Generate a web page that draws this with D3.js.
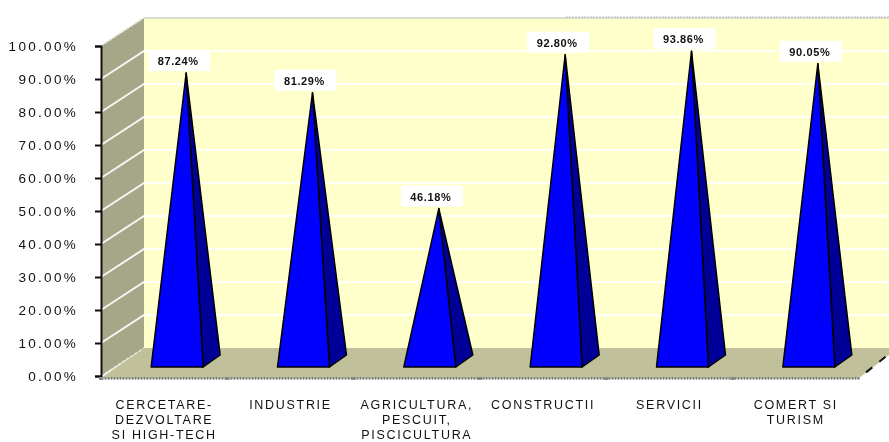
<!DOCTYPE html>
<html>
<head>
<meta charset="utf-8">
<script src="https://cdn.jsdelivr.net/npm/d3@7"></script>
<style>
  html, body { margin: 0; padding: 0; background: #fff; }
  svg { display: block; filter: blur(0.35px); }
  text { font-family: "Liberation Sans", Arial, sans-serif; fill: #111; }
</style>
</head>
<body>
<div class="container"></div>
<script>
(function(){

    var categories = ["CERCETARE-DEZVOLTARE", "INDUSTRIE", "AGRICULTURA", "CONSTRUCTII", "SERVICII", "COMERT SI TURISM"];
    var categoryLines = [
        ["CERCETARE-", "DEZVOLTARE", "SI HIGH-TECH"],
        ["INDUSTRIE"],
        ["AGRICULTURA,", "PESCUIT,", "PISCICULTURA"],
        ["CONSTRUCTII"],
        ["SERVICII"],
        ["COMERT SI", "TURISM"]
    ];
    var values = [87.24, 81.29, 46.18, 92.80, 93.86, 90.05];
    var tickValues = [0, 10, 20, 30, 40, 50, 60, 70, 80, 90, 100];

    var width = 889, height = 442;
    // oblique offset of the back wall from the front plane
    var depthX = 43, depthY = -28;

    var x = d3.scaleBand().domain(categories).range([101, 859]);
    var y = d3.scaleLinear().domain([0, 100]).range([376, 46]);

    var svg = d3.select(".container").append("svg")
        .attr("width", width)
        .attr("height", height)
        .attr("viewBox", "0 0 " + width + " " + height);

    var line = d3.line();
    var y0 = y(0), y100 = y(100), left = x.range()[0], right = x.range()[1];

    // back wall
    svg.append("rect")
        .attr("x", left + depthX)
        .attr("y", y100 + depthY)
        .attr("width", width - left - depthX)
        .attr("height", y0 - y100)
        .attr("fill", "#ffffcc");
    svg.append("line")
        .attr("x1", left + depthX).attr("x2", width)
        .attr("y1", y100 + depthY).attr("y2", y100 + depthY)
        .attr("stroke", "#dcdccf").attr("stroke-width", 2);
    svg.append("line")
        .attr("x1", 566).attr("x2", width)
        .attr("y1", y100 + depthY - 1).attr("y2", y100 + depthY - 1)
        .attr("stroke", "#bbb").attr("stroke-dasharray", "2,1");

    // side wall
    svg.append("path")
        .attr("d", line([[left, y0], [left, y100], [left + depthX, y100 + depthY], [left + depthX, y0 + depthY]]) + "Z")
        .attr("fill", "#a6a688");
    svg.append("path")
        .attr("d", line([[left, y100], [left + depthX, y100 + depthY]]))
        .attr("stroke", "#d8d8d0").attr("stroke-dasharray", "3,2").attr("stroke-width", 1.5);

    // gridlines, side wall and back wall
    svg.append("g").selectAll("path")
        .data(tickValues.slice(1, -1))
        .enter().append("path")
        .attr("fill", "none")
        .attr("stroke", "#fff")
        .attr("stroke-width", 2)
        .attr("opacity", 0.9)
        .attr("d", function(d) {
            return line([[left, y(d)], [left + depthX, y(d) + depthY], [width, y(d) + depthY]]);
        });

    // floor
    svg.append("path")
        .attr("d", line([[left, y0 + 2], [left + depthX, y0 + depthY], [width, y0 + depthY], [width, y0 - 21], [right, y0 + 2]]) + "Z")
        .attr("fill", "#c0c09a");
    svg.append("path")
        .attr("d", line([[right, y0 + 2], [width, y0 - 22]]))
        .attr("stroke", "#111").attr("stroke-dasharray", "8,9").attr("stroke-dashoffset", -9).attr("stroke-width", 2);
    svg.append("path")
        .attr("d", line([[left, y0], [left + depthX, y0 + depthY]]))
        .attr("stroke", "#e4e4d8").attr("stroke-dasharray", "3,2").attr("stroke-width", 1.5);

    // pyramids
    var baseInset = 13 + x.bandwidth() / 2 - 26;
    var pyramid = svg.append("g").selectAll("g")
        .data(values)
        .enter().append("g");

    function baseLeft(i) { return x(categories[i]) + baseInset; }
    function apexX(i) { return baseLeft(i) + 35; }
    function apexY(d) { return y(d) - 15; }

    pyramid.append("path")
        .attr("fill", "#000099")
        .attr("stroke", "#000")
        .attr("stroke-width", 1.5)
        .attr("stroke-linejoin", "round")
        .attr("d", function(d, i) {
            var b = baseLeft(i);
            return line([[b + 52, y0 - 9], [b + 69, y0 - 21], [apexX(i), apexY(d)]]) + "Z";
        });
    pyramid.append("path")
        .attr("fill", "#0000ff")
        .attr("stroke", "#000")
        .attr("stroke-width", 1.5)
        .attr("stroke-linejoin", "round")
        .attr("d", function(d, i) {
            var b = baseLeft(i);
            return line([[b, y0 - 9], [b + 52, y0 - 9], [apexX(i), apexY(d)]]) + "Z";
        });

    // value labels
    var labels = svg.append("g").selectAll("g")
        .data(values)
        .enter().append("g");
    labels.append("rect")
        .attr("x", function(d, i) { return apexX(i) - 38; })
        .attr("y", function(d) { return apexY(d) - 23; })
        .attr("width", 62)
        .attr("height", 21)
        .attr("fill", "#fff");
    labels.append("text")
        .attr("x", function(d, i) { return apexX(i) - 8; })
        .attr("y", function(d) { return apexY(d) - 8; })
        .attr("text-anchor", "middle")
        .style("font-size", "11px")
        .style("font-weight", "bold")
        .style("letter-spacing", "0.6px")
        .text(function(d) { return d.toFixed(2) + "%"; });

    // axes
    var yAxis = svg.append("g")
        .attr("transform", "translate(" + left + ",0)")
        .call(d3.axisLeft(y).tickValues(tickValues).tickSize(6).tickPadding(17)
            .tickFormat(function(d) { return d.toFixed(2) + "%"; }));
    yAxis.selectAll("path, line").attr("stroke", "#111").attr("stroke-width", 2);
    yAxis.selectAll("text")
        .style("font-size", "13.5px")
        .style("letter-spacing", "2.3px")
        .style("font-family", '"Liberation Sans", Arial, sans-serif');

    var xAxis = svg.append("g")
        .attr("transform", "translate(0," + (y0 + 2) + ")")
        .call(d3.axisBottom(x).tickSize(0).tickFormat(""));
    xAxis.select("path")
        .attr("stroke", "#666")
        .attr("stroke-width", 2)
        .attr("stroke-dasharray", "2,1");

    // grey markers between categories on the x axis
    svg.append("g").selectAll("rect")
        .data(categories)
        .enter().append("rect")
        .attr("x", function(d) { return x(d) - 2; })
        .attr("y", y0 + 1)
        .attr("width", 4)
        .attr("height", 3)
        .attr("fill", "#888");

    // category labels
    var catLabels = svg.append("g").selectAll("text")
        .data(categoryLines)
        .enter().append("text")
        .attr("text-anchor", "middle")
        .style("font-size", "12.5px")
        .style("letter-spacing", "1.7px");
    catLabels.selectAll("tspan")
        .data(function(d, i) { return d.map(function(t) { return { t: t, i: i }; }); })
        .enter().append("tspan")
        .attr("x", function(d) { return x(categories[d.i]) + x.bandwidth() / 2; })
        .attr("y", function(d, j) { return 409 + j * 15.2; })
        .text(function(d) { return d.t; });

})();
</script>
</body>
</html>
